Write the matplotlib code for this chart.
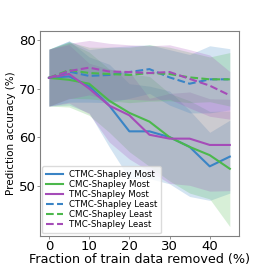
import matplotlib
matplotlib.use("Agg")
import matplotlib.pyplot as plt

# fractie verwijderde trainingsdata (%)
fractie = [0, 5, 10, 15, 20, 25, 30, 35, 40, 45]

# gemiddelde nauwkeurigheid per methode
ctmc_most = [72.2, 72.5, 70.5, 66.5, 61.2, 61.2, 60.0, 58.0, 54.0, 56.0]
cmc_most = [72.2, 71.8, 71.0, 67.5, 65.0, 63.2, 60.0, 58.0, 56.3, 53.5]
tmc_most = [72.2, 73.0, 70.0, 66.5, 64.5, 60.5, 59.7, 59.7, 58.4, 58.4]
ctmc_least = [72.2, 73.5, 72.6, 72.8, 73.4, 74.0, 72.3, 71.0, 71.9, 71.9]
cmc_least = [72.2, 73.8, 73.2, 73.0, 72.8, 73.2, 73.0, 72.3, 71.9, 71.9]
tmc_least = [72.2, 73.6, 74.3, 73.5, 73.4, 73.2, 73.4, 72.0, 70.6, 68.6]

# boven- en ondergrens van de banden
ctmc_most_hi = [78.1, 79.8, 76.5, 75.0, 71.0, 70.5, 69.5, 65.5, 61.0, 63.5]
ctmc_most_lo = [66.4, 66.6, 65.0, 58.0, 51.5, 51.5, 50.4, 47.8, 47.0, 48.5]
cmc_most_hi = [78.1, 79.5, 77.5, 74.0, 73.0, 72.5, 69.0, 67.5, 65.3, 65.4]
cmc_most_lo = [66.4, 66.2, 64.5, 61.0, 57.0, 54.0, 51.0, 48.5, 47.3, 41.6]
tmc_most_hi = [78.1, 79.0, 75.2, 74.0, 73.5, 68.0, 69.0, 69.3, 67.9, 67.8]
tmc_most_lo = [66.4, 67.0, 64.8, 59.0, 55.5, 53.0, 50.5, 50.1, 48.9, 49.0]
ctmc_least_hi = [78.1, 79.8, 78.0, 78.5, 78.8, 79.0, 78.0, 77.0, 78.8, 78.2]
ctmc_least_lo = [66.4, 67.2, 67.2, 67.1, 68.0, 69.0, 66.6, 65.0, 65.0, 65.6]
cmc_least_hi = [78.1, 79.6, 78.5, 78.5, 78.5, 79.0, 78.5, 77.5, 76.5, 77.4]
cmc_least_lo = [66.4, 68.0, 67.9, 67.5, 67.1, 67.4, 67.5, 67.1, 67.3, 66.4]
tmc_least_hi = [78.1, 79.3, 79.9, 79.3, 79.0, 78.8, 79.0, 78.0, 76.9, 73.5]
tmc_least_lo = [66.4, 67.9, 68.7, 67.7, 67.8, 67.6, 67.8, 66.0, 64.3, 63.7]

blauw = '#3a84c5'
groen = '#4cb84c'
paars = '#a54cb8'

reeksen = [
    ('CTMC-Shapley Most', ctmc_most, ctmc_most_lo, ctmc_most_hi, blauw, '-'),
    ('CMC-Shapley Most', cmc_most, cmc_most_lo, cmc_most_hi, groen, '-'),
    ('TMC-Shapley Most', tmc_most, tmc_most_lo, tmc_most_hi, paars, '-'),
    ('CTMC-Shapley Least', ctmc_least, ctmc_least_lo, ctmc_least_hi, blauw, '--'),
    ('CMC-Shapley Least', cmc_least, cmc_least_lo, cmc_least_hi, groen, '--'),
    ('TMC-Shapley Least', tmc_least, tmc_least_lo, tmc_least_hi, paars, '--'),
]

fig = plt.figure(figsize=(2.66, 2.66), dpi=100)
ax = fig.add_axes([0.150, 0.113, 0.748, 0.770])

for naam, gem, lo, hi, kleur, stijl in reeksen:
    ax.plot(fractie, gem, stijl, color=kleur, linewidth=1.5, label=naam)
    ax.fill_between(fractie, lo, hi, color=kleur, alpha=0.22, linewidth=0)

ax.set_xticks([0, 10, 20, 30, 40])
ax.set_yticks([50, 60, 70, 80])
ax.tick_params(labelsize=9.5, length=2, width=0.6, color='gray', pad=1)
ax.set_xlabel('Fraction of train data removed (%)', fontsize=9.2, labelpad=0)
ax.set_ylabel('Prediction accuracy (%)', fontsize=7.5, labelpad=2)
for s in ax.spines.values():
    s.set_color('gray')
    s.set_linewidth(0.8)

ax.legend(loc='lower left', fontsize=6.2, handlelength=1.9, labelspacing=0.12,
          borderpad=0.45, borderaxespad=0.3, handletextpad=0.7,
          framealpha=0.8, edgecolor='lightgray')

fig.savefig('out.png', dpi=100)
